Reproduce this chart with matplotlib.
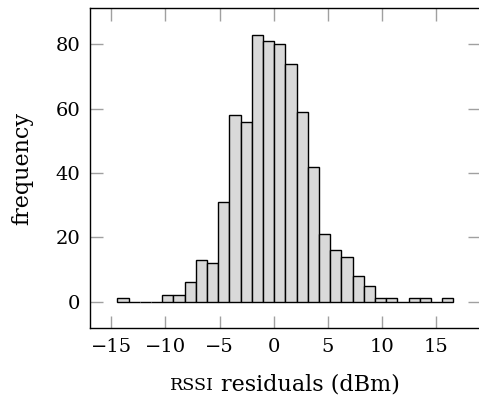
import numpy as np
import matplotlib

matplotlib.use("Agg")
import matplotlib.pyplot as plt
from matplotlib.offsetbox import TextArea, HPacker, AnchoredOffsetbox

# Histogram of RSSI residuals: 30 bins between the data min and max
bin_start = -14.42
bin_stop = 16.57
counts = [1, 0, 0, 0, 2, 2, 6, 13, 12, 31, 58, 56, 83, 81, 80,
          74, 59, 42, 21, 16, 14, 8, 5, 1, 1, 0, 1, 1, 0, 1]
x_ticks = [-15, -10, -5, 0, 5, 10, 15]
y_ticks = [0, 20, 40, 60, 80]

plt.rcParams["font.family"] = "DejaVu Serif"

W, H = 479, 404
fig = plt.figure(figsize=(W / 100, H / 100), dpi=100)
ax = fig.add_axes([90 / W, 1 - 328 / H, 390 / W, 320 / H])

edges = np.linspace(bin_start, bin_stop, len(counts) + 1)
ax.bar(edges[:-1], counts, width=np.diff(edges), align="edge",
       color="#d9d9d9", edgecolor="black", linewidth=1.0)

ax.set_xlim(-16.95, 19.03)
ax.set_ylim(-8.2, 91.3)
ax.set_xticks(x_ticks)
ax.set_yticks(y_ticks)
ax.set_xticklabels([f"\u2212{abs(v)}" if v < 0 else str(v) for v in x_ticks])

ax.tick_params(direction="in", length=9, width=1, color="#a0a0a0",
               top=True, right=True, labelsize=14, pad=7)
for s in ax.spines.values():
    s.set_linewidth(1.0)

ax.set_ylabel("frequency", fontsize=16, labelpad=16)

# x label with small-caps "rssi"
label = HPacker(children=[TextArea("RSSI", textprops=dict(size=12.5)),
                          TextArea("residuals (dBm)", textprops=dict(size=16))],
                align="baseline", pad=0, sep=5)
box = AnchoredOffsetbox(loc="center", child=label, frameon=False, pad=0,
                        bbox_to_anchor=(285 / W, 1 - 384 / H),
                        bbox_transform=fig.transFigure)
fig.add_artist(box)

fig.savefig("out.png", dpi=100)
